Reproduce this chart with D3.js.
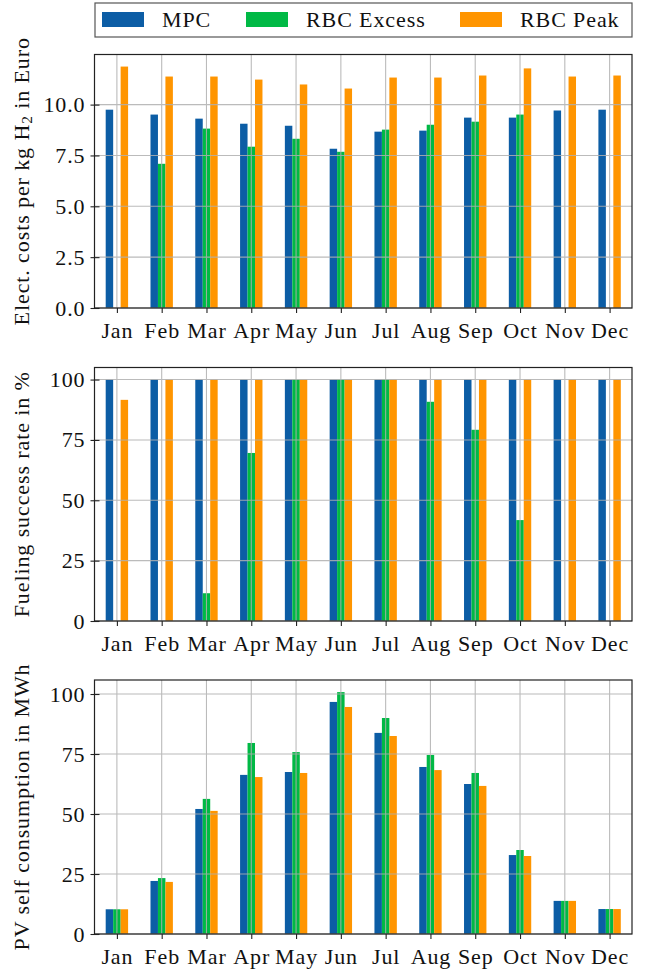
<!DOCTYPE html>
<html><head><meta charset="utf-8">
<script src="https://cdn.jsdelivr.net/npm/d3@7"></script>
<style>
body{margin:0;background:#fff;}
svg{display:block;font-family:"Liberation Serif","DejaVu Serif",serif;}
</style></head>
<body><svg id="c" width="652" height="975"></svg>
<script>
const months = ["Jan","Feb","Mar","Apr","May","Jun","Jul","Aug","Sep","Oct","Nov","Dec"];
const seriesNames = ["MPC","RBC Excess","RBC Peak"];
const colors = ["#0C5DA5","#00B945","#FF9500"];

const costMPC    = [9.75, 9.51, 9.31, 9.06, 8.96, 7.83, 8.67, 8.72, 9.36, 9.36, 9.71, 9.75];
const costExcess = [0, 7.09, 8.82, 7.93, 8.32, 7.68, 8.77, 9.01, 9.16, 9.51, 0, 0];
const costPeak   = [11.87, 11.38, 11.38, 11.23, 10.99, 10.79, 11.33, 11.33, 11.43, 11.78, 11.38, 11.43];

const fuelMPC    = [100,100,100,100,100,100,100,100,100,100,100,100];
const fuelExcess = [0, 0, 11.5, 69.6, 100, 100, 100, 90.8, 79.2, 41.8, 0, 0];
const fuelPeak   = [91.6,100,100,100,100,100,100,100,100,100,100,100];

const pvMPC    = [10.3, 22.1, 52.1, 66.3, 67.5, 96.7, 83.8, 69.6, 62.5, 32.9, 13.8, 10.4];
const pvExcess = [10.3, 23.3, 56.3, 79.6, 75.8, 100.8, 90.0, 74.6, 67.1, 35.0, 13.8, 10.4];
const pvPeak   = [10.3, 21.7, 51.3, 65.4, 67.1, 94.6, 82.5, 68.3, 61.7, 32.5, 13.8, 10.4];

const costTicks = [0, 2.5, 5, 7.5, 10];
const pctTicks = [0, 25, 50, 75, 100];

const svg = d3.select("#c");
const FS = 22;
const LS = 0.9;
const left = 94.5, right = 632;

const panels = [
  {top: 54.5, bottom: 308, series: [costMPC, costExcess, costPeak], ticks: costTicks, fmt: d3.format(".1f"),
   label: [{t:"Elect. costs per kg H"},{t:"2", sub:true},{t:" in Euro"}]},
  {top: 367.5, bottom: 621, series: [fuelMPC, fuelExcess, fuelPeak], ticks: pctTicks, fmt: d3.format("d"),
   label: [{t:"Fueling success rate in %"}]},
  {top: 680, bottom: 934, series: [pvMPC, pvExcess, pvPeak], ticks: pctTicks, fmt: d3.format("d"),
   label: [{t:"PV self consumption in MWh"}]}
];

const x = d3.scaleLinear().domain([-0.5, months.length - 0.5]).range([left, right]);
const bw = 0.5 / 3;

panels.forEach(p => {
  const maxV = d3.max(p.series.flat());
  const y = d3.scaleLinear().domain([0, maxV * 1.05]).range([p.bottom, p.top]);
  const g = svg.append("g");

  p.series.forEach((vals, si) => {
    g.append("g").selectAll("rect").data(vals.map((v, i) => ({v, i})).filter(d => d.v > 0))
      .join("rect")
      .attr("x", d => x(d.i + (si - 1) * bw - bw / 2))
      .attr("width", x(bw) - x(0))
      .attr("y", d => y(d.v))
      .attr("height", d => y(0) - y(d.v))
      .attr("fill", colors[si]);
  });

  const grid = g.append("g").attr("stroke", "#b0b0b0").attr("stroke-width", 1.1).attr("opacity", 0.85);
  grid.selectAll("line.gx").data(months.map((m, i) => i)).join("line").attr("class","gx")
    .attr("x1", d => x(d)).attr("x2", d => x(d)).attr("y1", p.top).attr("y2", p.bottom);
  grid.selectAll("line.gy").data(p.ticks).join("line").attr("class","gy")
    .attr("x1", left).attr("x2", right).attr("y1", d => y(d)).attr("y2", d => y(d));

  const xAxis = d3.axisBottom(x).tickValues(months.map((m, i) => i)).tickFormat(i => months[i])
    .tickSizeInner(5).tickSizeOuter(0).tickPadding(9);
  const xa = g.append("g").attr("transform", `translate(0,${p.bottom})`).call(xAxis);
  xa.select(".domain").remove();
  xa.selectAll("line").attr("stroke", "#222").attr("stroke-width", 1.1);
  xa.selectAll("text").attr("font-size", FS).attr("font-family", "Liberation Serif")
    .attr("letter-spacing", LS).attr("fill", "#111");

  const yAxis = d3.axisLeft(y).tickValues(p.ticks).tickFormat(p.fmt).tickSizeInner(4).tickSizeOuter(0).tickPadding(5);
  const ya = g.append("g").attr("transform", `translate(${left},0)`).call(yAxis);
  ya.select(".domain").remove();
  ya.selectAll("line").attr("stroke", "#222").attr("stroke-width", 1.1).attr("x2", 5).attr("x1", -4);
  ya.selectAll("text").attr("font-size", FS).attr("font-family", "Liberation Serif")
    .attr("letter-spacing", LS).attr("fill", "#111");

  g.append("rect").attr("x", left).attr("y", p.top).attr("width", right - left).attr("height", p.bottom - p.top)
    .attr("fill", "none").attr("stroke", "#222").attr("stroke-width", 1.2);

  const cy = (p.top + p.bottom) / 2;
  const lt = g.append("text").attr("transform", `translate(29,${cy}) rotate(-90)`)
    .attr("text-anchor", "middle").attr("font-size", FS).attr("letter-spacing", LS).attr("fill", "#111");
  p.label.forEach(part => {
    const ts = lt.append("tspan").text(part.t);
    if (part.sub) ts.attr("font-size", FS * 0.7).attr("baseline-shift", "-20%");
  });
});

const lg = svg.append("g");
lg.append("rect").attr("x", 95).attr("y", 3).attr("width", 537).attr("height", 34)
  .attr("fill", "#fff").attr("stroke", "#555").attr("stroke-width", 1.2);
const legX = [102, 246, 460];
seriesNames.forEach((n, i) => {
  lg.append("rect").attr("x", legX[i]).attr("y", 12).attr("width", 42).attr("height", 15).attr("fill", colors[i]);
  lg.append("text").attr("x", legX[i] + 60).attr("y", 27).attr("font-size", FS)
    .attr("letter-spacing", LS).attr("fill", "#111").text(n);
});
</script></body></html>
